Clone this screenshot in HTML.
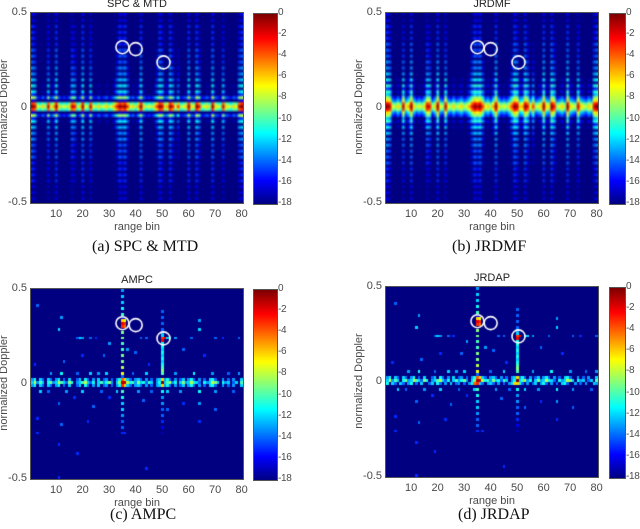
<!DOCTYPE html>
<html><head><meta charset="utf-8"><style>
body{margin:0;background:#fff;width:640px;height:529px;position:relative;overflow:hidden;font-family:"Liberation Sans",sans-serif;}
.abs{position:absolute}
.t{position:absolute;font-size:11px;color:#4a4a4a;white-space:nowrap}
.cb{font-size:10px;letter-spacing:-0.3px}
.cap{position:absolute;font-family:"Liberation Serif",serif;font-size:16px;color:#111;white-space:nowrap}
canvas{position:absolute}
</style></head><body>
<div id="root"></div>
<script>
// ---- data ----
const colProfile=[0,-1,-7,-8,-6,-8,-1,-7,-5,0,-6,-8,-7,-8,-6,-1,-2,-8,-6,0,-7,-8,-1,-7,-8,-6,-8,-7,-6,-8,-7,-5,-2,0,-1,0,-3,-7,-6,-8,-5,0,-6,-8,-7,-8,-6,-3,0,-1,-6,-5,0,-2,-7,-3,-8,-7,-6,0,-6,-7,0,-2,-8,-7,-6,-8,0,-6,-7,-8,-1,-6,-7,-8,-6,-7,-1,0];
const rowProfileA=[-16,-21,-16,-21,-15,-21,-15,-20,-15,-20,-15,-20,-14,-20,-14,-20,-14,-19,-13,-19,-13,-19,-12,-18,-11,-18,-11,-15,-8,-16,-3,0,-3,-16,-8,-15,-11,-18,-12,-18,-13,-19,-13,-19,-14,-19,-14,-20,-14,-20,-15,-20,-15,-20,-15,-21,-15,-21,-16,-21,-16,-21,-16,-21];
const rowProfileB=[-16,-21,-16,-21,-15,-21,-15,-20,-15,-20,-14,-20,-14,-19,-14,-19,-13,-19,-13,-18,-12,-18,-11,-17,-10,-15,-10,-12,-8,-6,-2,0,-2,-6,-8,-12,-10,-15,-11,-17,-12,-18,-13,-18,-13,-19,-14,-19,-14,-20,-14,-20,-15,-20,-15,-21,-15,-21,-16,-21,-16,-21,-16,-21];
const centerRowC=[-12,-8,-13,-10,-12,-18,-11,-9,-13,-12,-8,-10,-12,-14,-9,-11,-18,-13,-12,-10,-8,-12,-14,-11,-18,-12,-10,-13,-11,-9,-13,-18,-12,-9,-2,-1,-8,-11,-10,-13,-9,-12,-11,-14,-10,-12,-18,-13,-11,0,-12,-10,-8,-13,-11,-18,-12,-9,-13,-12,-8,-11,-12,-14,-18,-11,-13,-12,-8,-9,-12,-18,-11,-13,-12,-18,-14,-12,-18,-10];
const neighborRowC=[-13,-11,-18,-12,-14,-18,-12,-14,-18,-13,-11,-18,-14,-18,-12,-18,-18,-14,-12,-18,-11,-14,-18,-13,-18,-12,-18,-14,-13,-18,-14,-18,-13,-11,-4,-6,-12,-14,-18,-13,-12,-14,-18,-13,-18,-14,-18,-13,-12,-6,-13,-11,-14,-18,-13,-18,-14,-12,-18,-13,-11,-14,-18,-13,-18,-14,-18,-12,-11,-14,-18,-18,-13,-18,-14,-18,-13,-18,-18,-12];
const streak35=[-13,-18,-12,-18,-12,-18,-11,-18,-10,-16,-6,-2,-3,-18,-9,-18,-9,-18,-10,-18,-10,-18,-9,-18,-9,-18,-8,-18,-7,-14,-4,-1,-3,-18,-10,-18,-11,-18,-12,-18,-12,-18,-13,-18,-14,-18,-14,-18,-15,-18];
const streak50=[-18,-18,-18,-18,-18,-18,-18,-14,-18,-14,-18,-14,-18,-14,-13,-12,-3,-2,-11,-11,-12,-11,-12,-11,-12,-11,-10,-9,-10,-18,-8,0,-6,-18,-11,-18,-13,-18,-13,-18,-14,-18,-14,-18,-15,-18,-16,-18,-17,-18];
const sparseDots=[[3,5,-14],[12,9,-13],[11,13,-12],[18,16,-14],[19,16,-12],[20,16,-13],[23,16,-14],[25,16,-15],[30,18,-13],[42,16,-14],[44,16,-14],[52,16,-12],[53,16,-12],[55,16,-13],[61,16,-14],[64,10,-13],[64,13,-12],[70,16,-14],[73,16,-15],[79,16,-14],[2,25,-15],[13,24,-14],[20,22,-15],[28,22,-14],[37,20,-13],[40,21,-14],[45,25,-15],[58,20,-14],[66,22,-15],[8,28,-13],[12,28,-11],[18,28,-14],[23,28,-12],[26,28,-13],[29,28,-12],[39,28,-14],[44,28,-12],[55,28,-13],[62,28,-11],[69,28,-13],[75,28,-14],[79,28,-13],[4,34,-12],[7,34,-14],[14,34,-13],[20,34,-12],[27,34,-14],[33,34,-12],[41,34,-13],[46,34,-14],[52,34,-12],[57,34,-13],[64,34,-11],[70,34,-13],[77,34,-14],[11,38,-14],[17,36,-15],[24,39,-14],[30,36,-15],[43,37,-14],[58,38,-15],[64,38,-13],[70,40,-14],[3,43,-15],[12,45,-14],[22,44,-15],[36,48,-15],[52,40,-14],[64,44,-15],[3,48,-15],[11,52,-15],[18,55,-15],[44,60,-15],[11,63,-15]];
const xTicks=[10,20,30,40,50,60,70,80];
const yTicks=[0.5,0,-0.5];
const cTicks=[0,-2,-4,-6,-8,-10,-12,-14,-16,-18];

function jet(t){t=Math.max(0,Math.min(1,t));const c=v=>Math.round(255*Math.max(0,Math.min(1,v)));
return [c(1.5-Math.abs(4*t-3)),c(1.5-Math.abs(4*t-2)),c(1.5-Math.abs(4*t-1))];}
const NC=80,NR=64;
function gridA(rp){const g=[];for(let r=0;r<NR;r++){g.push([]);for(let c=0;c<NC;c++)g[r].push(rp[r]+colProfile[c]);}return g;}
function gridC(variant){const g=[];for(let r=0;r<NR;r++){g.push(new Array(NC).fill(-18));}
 for(let c=0;c<NC;c++){g[31][c]=centerRowC[c];g[30][c]=neighborRowC[c];g[32][c]=neighborRowC[(c+variant)%NC];}
 for(let r=0;r<streak35.length;r++){g[r][34]=Math.max(g[r][34],streak35[r]);if(r>=10&&r<=12)g[r][35]=Math.max(g[r][35],streak35[r]-1);}
 for(let r=0;r<streak50.length;r++){g[r][49]=Math.max(g[r][49],streak50[r]);}
 g[16][50]=-2;
 sparseDots.forEach(d=>{const c=(d[0]-1+variant)%NC;g[d[1]][c]=Math.max(g[d[1]][c],d[2]);});
 return g;}

const root=document.getElementById('root');
function add(tag,cls,name,style,text){const e=document.createElement(tag);if(cls)e.className=cls;


Object.assign(e.style,style);if(text!==undefined)e.textContent=text;root.appendChild(e);return e;}

function panel(px,py,cbx,cbw,title,caption,capx,capy,grid,smooth,circles){
 const W=212,H=190;
 const cv=add('canvas',null,'heatmap',{left:px+'px',top:py+'px'});cv.width=W;cv.height=H;
 const ctx=cv.getContext('2d');
 if(smooth){
  const small=document.createElement('canvas');small.width=NC;small.height=NR;
  const sc=small.getContext('2d');const im=sc.createImageData(NC,NR);
  for(let r=0;r<NR;r++)for(let c=0;c<NC;c++){const v=Math.max(-18,Math.min(0,grid[r][c]));const col=jet((v+18)/18);const i=(r*NC+c)*4;im.data[i]=col[0];im.data[i+1]=col[1];im.data[i+2]=col[2];im.data[i+3]=255;}
  sc.putImageData(im,0,0);
  ctx.imageSmoothingEnabled=true;ctx.drawImage(small,0,0,W,H);
 } else {
  for(let r=0;r<NR;r++)for(let c=0;c<NC;c++){const v=Math.max(-18,Math.min(0,grid[r][c]));const col=jet((v+18)/18);
   ctx.fillStyle=`rgb(${col})`;const x0=Math.round(c*W/NC),x1=Math.round((c+1)*W/NC),y0=Math.round(r*H/NR),y1=Math.round((r+1)*H/NR);ctx.fillRect(x0,y0,x1-x0,y1-y0);}
 }
 const xs=v=>px+(v-0.5)/80*W, ys=v=>py+(0.5-v)*H;
 ctx.strokeStyle='#fff';ctx.lineWidth=1.6;
 circles.forEach(ci=>{ctx.beginPath();ctx.arc(xs(ci[0])-px,ys(ci[1])-py,6.5,0,7);ctx.stroke();});
 add('div','abs','plot-frame',{left:(px-1)+'px',top:(py-1)+'px',width:W+'px',height:H+'px',border:'1px solid #555'});
 add('div','t','plot-title',{left:(px+W/2-40)+'px',width:'80px',textAlign:'center',top:(py-15)+'px',color:'#222'},title);
 xTicks.forEach(v=>add('div','t','x-tick-label',{left:(xs(v)-10)+'px',width:'20px',textAlign:'center',top:(py+H+5)+'px'},String(v)));
 yTicks.forEach(v=>add('div','t','y-tick-label',{left:(px-31)+'px',width:'27px',textAlign:'right',top:(ys(v)-7)+'px'},String(v)));
 add('div','t','x-axis-title',{left:(px+W/2-40)+'px',width:'80px',textAlign:'center',top:(py+H+18)+'px'},'range bin');
 add('div','t','y-axis-title',{left:(px-82)+'px',width:'110px',textAlign:'center',top:(py+H/2-7)+'px',transform:'rotate(-90deg)',transformOrigin:'50% 50%'},'normalized Doppler');
 const cb=add('canvas',null,'colorbar',{left:cbx+'px',top:py+'px',border:'1px solid #555',boxSizing:'border-box'});cb.width=cbw;cb.height=H;
 const cc=cb.getContext('2d');for(let y=0;y<H;y++){const col=jet(1-y/H);cc.fillStyle=`rgb(${col})`;cc.fillRect(0,y,cbw,1);}
 cTicks.forEach(v=>add('div','t cb','colorbar-tick-label',{left:(cbx+cbw+2)+'px',top:(py+(-v)/18*H-6)+'px'},String(v)));
 add('div','cap','caption',{left:capx+'px',top:capy+'px'},caption);
}
const circ=[[35,0.32],[40,0.31],[50.5,0.24]];
panel(31,13,253,23,'SPC & MTD','(a)  SPC & MTD',92,238,gridA(rowProfileA),true,circ);
panel(386,13,609,15,'JRDMF','(b)  JRDMF',452,238,gridA(rowProfileB),true,circ);
panel(31,289,253,23,'AMPC','(c)  AMPC',110,506,gridC(0),false,circ);
panel(386,287,609,15,'JRDAP','(d)  JRDAP',458,506,gridC(1),false,circ);
</script>
</body></html>
